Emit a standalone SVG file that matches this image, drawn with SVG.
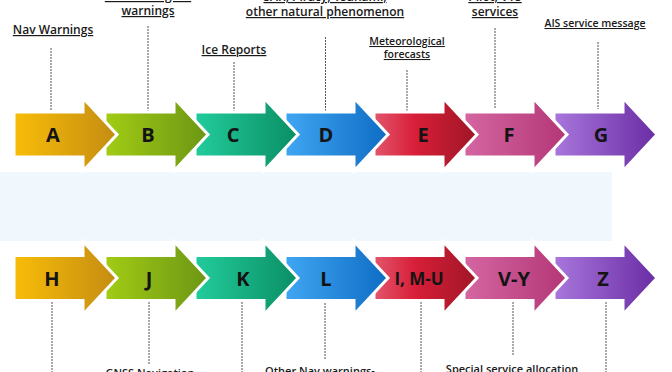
<svg xmlns="http://www.w3.org/2000/svg" xmlns:xlink="http://www.w3.org/1999/xlink" width="672" height="372" viewBox="0 0 672 372">
<style>
.lbl{font-family:"Open Sans","DejaVu Sans",sans-serif;font-weight:600;font-size:12px;fill:#1a1a1a;text-anchor:middle;text-decoration:underline}
.sm{font-size:10.5px}
.bt{font-family:"Open Sans","DejaVu Sans",sans-serif;font-weight:600;font-size:11px;fill:#1a1a1a;text-anchor:middle}
.let{font-family:"Open Sans","DejaVu Sans",sans-serif;font-weight:700;font-size:20px;fill:#141414;text-anchor:middle}
.let2{font-size:17px}
.arr{stroke:#fff;stroke-width:3;stroke-linejoin:miter}
.dash{stroke:#555;stroke-width:1;stroke-dasharray:2 1;fill:none}
</style>
<defs>
<path id="ar" d="M0,-22.5 H69 V-36.5 L103,0 L69,36.5 V22.5 H0 Z"/>
<linearGradient id="gA" x1="0" x2="1" y1="0" y2="0"><stop offset="0" stop-color="#f8bd08"/><stop offset="1" stop-color="#c48c12"/></linearGradient>
<linearGradient id="gB" x1="0" x2="1" y1="0" y2="0"><stop offset="0" stop-color="#a2cc14"/><stop offset="1" stop-color="#6c9614"/></linearGradient>
<linearGradient id="gC" x1="0" x2="1" y1="0" y2="0"><stop offset="0" stop-color="#22cc9c"/><stop offset="1" stop-color="#0a8e64"/></linearGradient>
<linearGradient id="gD" x1="0" x2="1" y1="0" y2="0"><stop offset="0" stop-color="#40a6f2"/><stop offset="1" stop-color="#0e6cc4"/></linearGradient>
<linearGradient id="gE" x1="0" x2="1" y1="0" y2="0"><stop offset="0" stop-color="#e2566c"/><stop offset="0.4" stop-color="#d81e38"/><stop offset="1" stop-color="#9e1626"/></linearGradient>
<linearGradient id="gF" x1="0" x2="1" y1="0" y2="0"><stop offset="0" stop-color="#d466a2"/><stop offset="1" stop-color="#b43676"/></linearGradient>
<linearGradient id="gG" x1="0" x2="1" y1="0" y2="0"><stop offset="0" stop-color="#a877dc"/><stop offset="1" stop-color="#6a2ca4"/></linearGradient>
</defs>
<rect width="672" height="372" fill="#fff"/>
<rect x="0" y="172" width="612" height="69" fill="#f0f7fd"/>

<g id="connectors">
<line class="dash" x1="51" y1="48" x2="51" y2="111"/>
<line class="dash" x1="148" y1="26" x2="148" y2="111"/>
<line class="dash" x1="234" y1="62" x2="234" y2="111"/>
<line class="dash" x1="325.5" y1="37" x2="325.5" y2="111"/>
<line class="dash" x1="407" y1="70" x2="407" y2="111"/>
<line class="dash" x1="495" y1="28" x2="495" y2="109"/>
<line class="dash" x1="598" y1="42" x2="598" y2="109"/>
<line class="dash" x1="52" y1="302" x2="52" y2="372"/>
<line class="dash" x1="149" y1="302" x2="149" y2="365"/>
<line class="dash" x1="242" y1="302" x2="242" y2="372"/>
<line class="dash" x1="325" y1="297" x2="325" y2="360"/>
<line class="dash" x1="421" y1="302" x2="421" y2="372"/>
<line class="dash" x1="513" y1="302" x2="513" y2="356"/>
<line class="dash" x1="606" y1="302" x2="606" y2="372"/>
</g>

<g id="labels">
<text class="lbl" x="53" y="34">Nav Warnings</text>
<text class="lbl" x="148" y="0">Meteorological</text>
<text class="lbl" x="148" y="15">warnings</text>
<text class="lbl" x="234" y="54">Ice Reports</text>
<text class="lbl" x="325" y="1">SAR, Piracy, Tsunami,</text>
<text class="lbl" x="325" y="16">other natural phenomenon</text>
<text class="lbl sm" x="407" y="45">Meteorological</text>
<text class="lbl sm" x="407" y="58">forecasts</text>
<text class="lbl" x="495" y="1">Pilot, VTS</text>
<text class="lbl" x="495" y="16">services</text>
<text class="lbl sm" x="595" y="27">AIS service message</text>
<text class="bt" x="150" y="377">GNSS Navigation</text>
<text class="bt" x="320" y="375">Other Nav warnings-</text>
<text class="bt" x="512" y="373">Special service allocation</text>
</g>

<g id="G"><use href="#ar" xlink:href="#ar" class="arr" fill="url(#gG)" x="554" y="134.5"/><text class="let" x="601" y="142">G</text></g>
<g id="F"><use href="#ar" xlink:href="#ar" class="arr" fill="url(#gF)" x="464" y="134.5"/><text class="let" x="509" y="142">F</text></g>
<g id="E"><use href="#ar" xlink:href="#ar" class="arr" fill="url(#gE)" x="374" y="134.5"/><text class="let" x="423" y="142">E</text></g>
<g id="D"><use href="#ar" xlink:href="#ar" class="arr" fill="url(#gD)" x="285" y="134.5"/><text class="let" x="326" y="142">D</text></g>
<g id="C"><use href="#ar" xlink:href="#ar" class="arr" fill="url(#gC)" x="195" y="134.5"/><text class="let" x="233" y="142">C</text></g>
<g id="B"><use href="#ar" xlink:href="#ar" class="arr" fill="url(#gB)" x="105" y="134.5"/><text class="let" x="148" y="142">B</text></g>
<g id="A"><use href="#ar" xlink:href="#ar" class="arr" fill="url(#gA)" x="14" y="134.5"/><text class="let" x="53" y="142">A</text></g>

<g id="Z"><use href="#ar" xlink:href="#ar" class="arr" fill="url(#gG)" x="554" y="278"/><text class="let" x="603" y="285.5">Z</text></g>
<g id="V-Y"><use href="#ar" xlink:href="#ar" class="arr" fill="url(#gF)" x="464" y="278"/><text class="let" x="514" y="285.5">V-Y</text></g>
<g id="I-M-U"><use href="#ar" xlink:href="#ar" class="arr" fill="url(#gE)" x="374" y="278"/><text class="let let2" x="419" y="284.5">I, M-U</text></g>
<g id="L"><use href="#ar" xlink:href="#ar" class="arr" fill="url(#gD)" x="285" y="278"/><text class="let" x="326" y="285.5">L</text></g>
<g id="K"><use href="#ar" xlink:href="#ar" class="arr" fill="url(#gC)" x="195" y="278"/><text class="let" x="243" y="285.5">K</text></g>
<g id="J"><use href="#ar" xlink:href="#ar" class="arr" fill="url(#gB)" x="105" y="278"/><text class="let" x="149" y="285.5">J</text></g>
<g id="H"><use href="#ar" xlink:href="#ar" class="arr" fill="url(#gA)" x="14" y="278"/><text class="let" x="52" y="285.5">H</text></g>
</svg>
